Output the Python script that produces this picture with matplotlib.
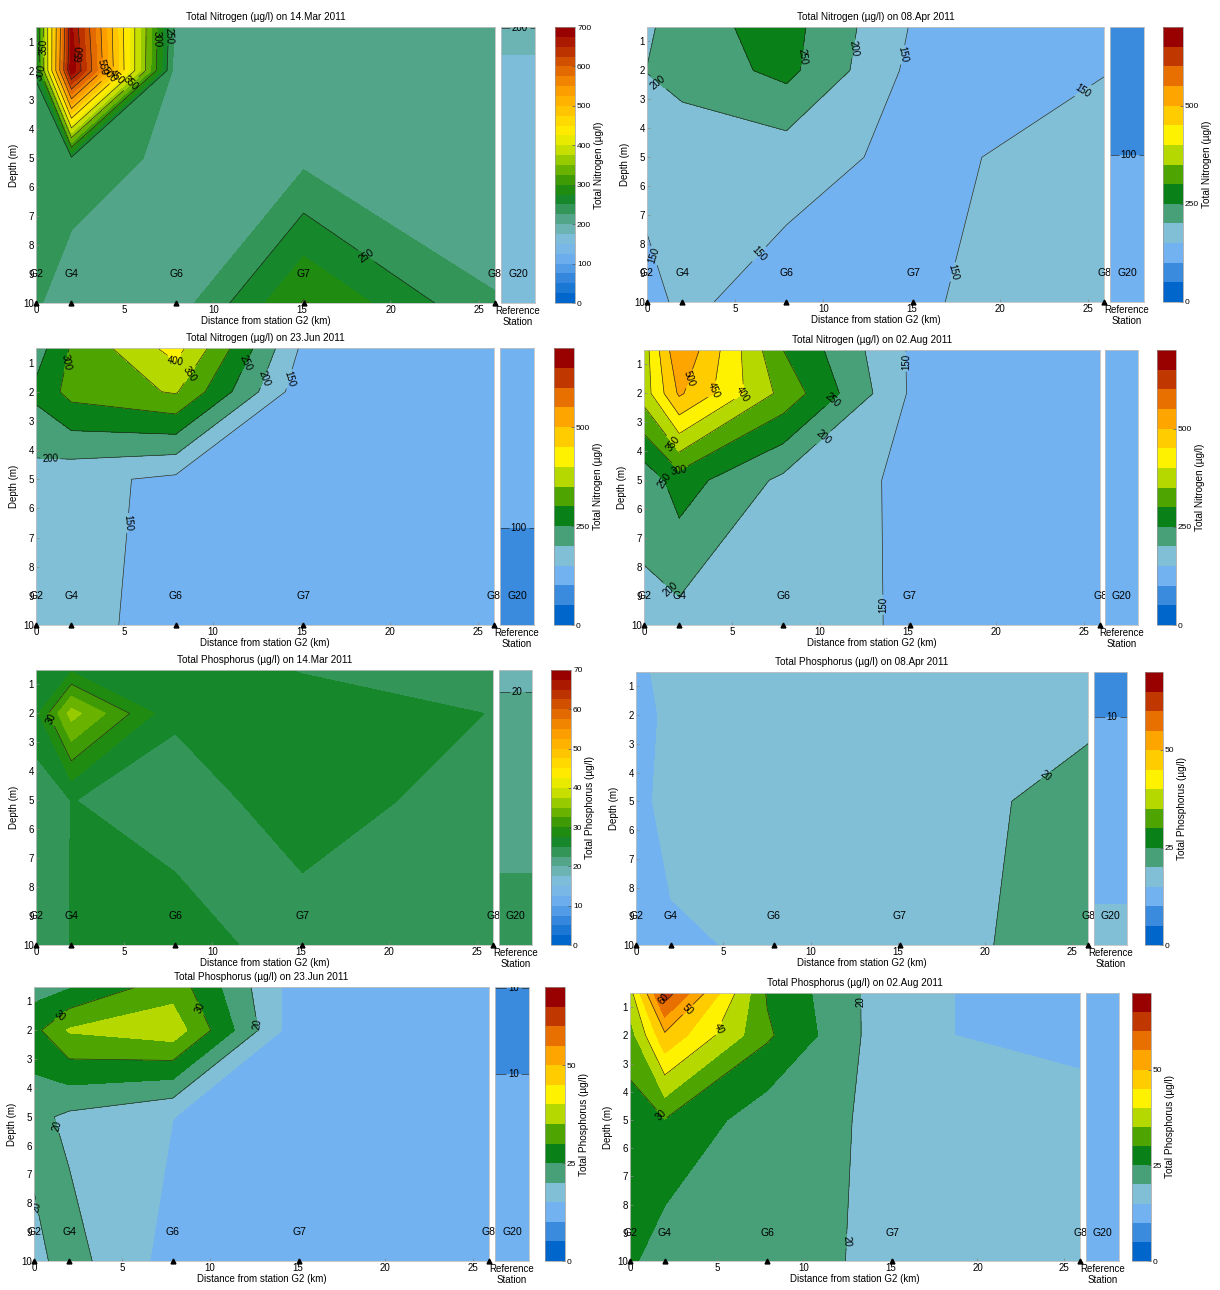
import numpy as np
import matplotlib.pyplot as plt
from matplotlib.colors import LinearSegmentedColormap

plt.rcParams['font.family'] = ['Liberation Sans', 'DejaVu Sans']

W, H = 1220, 1290
fig = plt.figure(figsize=(W / 100, H / 100), dpi=100)

# stations along the transect and sampled depths
stations = [0, 2, 7.9, 15.1, 25.9]
station_names = ['G2', 'G4', 'G6', 'G7', 'G8']
ref_name = 'G20'
depths = [0.5, 2, 5, 10]

# concentrations, one row per depth, one column per station (µg/l)
tn_mar = [[262, 680, 218, 212, 200.5],
          [252, 695, 208, 212, 214],
          [235, 247, 215, 218, 214],
          [230, 203, 212, 302, 226]]
tn_mar_ref = [201, 161, 158, 155]

tn_apr = [[190, 231, 269, 145, 140],
          [201, 220, 264, 136, 148],
          [170, 165, 172, 136, 175],
          [132, 161, 125, 144, 180]]
tn_apr_ref = [85, 92, 100.2, 112]

tn_jun = [[225, 305, 420, 140, 125],
          [262, 318, 355, 117, 125],
          [180, 165, 139, 125, 125],
          [170, 165, 132, 125, 125]]
tn_jun_ref = [120, 115, 105, 90]

tn_aug = [[375, 548, 300, 145, 125],
          [373, 508, 334, 145, 125],
          [217, 274, 188.5, 139, 125],
          [188, 182, 165, 146, 125]]
tn_aug_ref = [128, 130, 131, 132]

tp_mar = [[26, 27.1, 26, 24.9, 24],
          [26.8, 36, 25.3, 26, 24.95],
          [23.2, 25.05, 24, 26, 24],
          [23.5, 25.1, 26, 24, 24]]
tp_mar_ref = [19.5, 20.5, 21.5, 23.5]

tp_apr = [[13.5, 17.1, 17, 17, 17.5],
          [13, 16.2, 17, 17, 19.15],
          [13.5, 16.7, 17, 17.5, 21.7],
          [13, 14.2, 15.9, 18, 22]]
tp_apr_ref = [8.5, 9.95, 13, 15.8]

tp_jun = [[23, 24.5, 33, 12, 12.5],
          [28.5, 35.5, 38, 11.3, 12.5],
          [21.5, 18.9, 15.05, 12.5, 12.5],
          [18.6, 22, 13, 12.5, 12.5]]
tp_jun_ref = [10.02, 9, 11, 12]

tp_aug = [[38, 63, 29.5, 16.8, 11.4],
          [32.7, 49, 30.8, 16.4, 12.2],
          [27.5, 29.8, 21.9, 19.1, 19.2],
          [26, 21.9, 21, 19.4, 18]]
tp_aug_ref = [12.8, 13, 13.1, 13.2]

palette = ['#0066cc', '#3a8ade', '#72b2f0', '#80bfd6', '#48a078', '#0a8018',
           '#4ea400', '#b4d800', '#fff200', '#ffcc00', '#ffa500', '#e87000',
           '#c03800', '#990000']
cmap = LinearSegmentedColormap.from_list('tn', palette)
coarse = palette
fine = [cmap(t) for t in np.linspace(0, 1, 28)]

N_LABEL = 'Total Nitrogen (µg/l)'
P_LABEL = 'Total Phosphorus (µg/l)'
FS = 7
LINE = '#222222'


def px_axes(l, t, r, b):
    return fig.add_axes([l / W, 1 - b / H, (r - l) / W, (b - t) / H])


def style(ax):
    for s in ax.spines.values():
        s.set_color('#c0c0c0')
        s.set_linewidth(0.6)
    ax.tick_params(labelsize=FS, length=2, width=0.5, direction='in',
                   color='#888888', pad=1.5)


def label_lines(ax, cs, spots=None):
    kw = dict(fmt='%d', fontsize=7, inline=True, inline_spacing=2, colors='k')
    if spots:
        ax.clabel(cs, manual=spots, **kw)
    else:
        ax.clabel(cs, **kw)


def crossings(profile, lines):
    # depths where a single profile passes each line level
    out = []
    for lev in lines:
        for i in range(len(depths) - 1):
            a, b = profile[i], profile[i + 1]
            if (a - lev) * (b - lev) < 0:
                out.append(depths[i] + (lev - a) / (b - a) * (depths[i + 1] - depths[i]))
    return out


def panel(box, vals, ref, vmax, step, line_step, colors, cticks, label, title,
          spots=None):
    l, t, r, b, rl, rr, cl, cr = box
    levels = np.arange(0, vmax + step / 2, step)
    lines = np.arange(line_step, vmax, line_step)
    z = np.array(vals, dtype=float)

    ax = px_axes(l, t, r, b)
    cs = ax.contourf(stations, depths, z, levels=levels, colors=colors)
    cl_ = ax.contour(stations, depths, z, levels=lines, colors=LINE,
                     linewidths=0.45)
    label_lines(ax, cl_, spots)
    ax.plot(stations, [depths[-1]] * len(stations), '^', color='k', ms=3.5,
            clip_on=False, zorder=5)
    for x, name in zip(stations, station_names):
        ax.text(x, 9, name, ha='center', va='center', fontsize=7.5, zorder=6)
    ax.set_xlim(stations[0], stations[-1])
    ax.set_ylim(depths[-1], depths[0])
    ax.set_xticks([0, 5, 10, 15, 20, 25])
    ax.set_yticks(range(1, 11))
    ax.set_xlabel('Distance from station G2 (km)', fontsize=FS, labelpad=1)
    ax.set_ylabel('Depth (m)', fontsize=FS, labelpad=3)
    ax.set_title(title, fontsize=7.2, pad=5)
    style(ax)

    rax = px_axes(rl, t, rr, b)
    rz = np.column_stack([ref, ref]).astype(float)
    rax.contourf([0, 1], depths, rz, levels=levels, colors=colors)
    rcl = rax.contour([0, 1], depths, rz, levels=lines, colors=LINE,
                      linewidths=0.45)
    rspots = [(0.55, d) for d in crossings(ref, lines)]
    if rspots:
        label_lines(rax, rcl, rspots)
    rax.text(0.5, 9, ref_name, ha='center', va='center', fontsize=7.5)
    rax.set_xlim(0, 1)
    rax.set_ylim(depths[-1], depths[0])
    rax.set_xticks([])
    rax.set_yticks([])
    rax.set_xlabel('Reference\nStation', fontsize=FS, labelpad=2,
                   linespacing=1.1)
    style(rax)

    cax = px_axes(cl, t, cr, b)
    cb = fig.colorbar(cs, cax=cax, ticks=cticks)
    cb.outline.set_edgecolor('#999999')
    cb.outline.set_linewidth(0.5)
    cb.ax.tick_params(labelsize=6, length=2, width=0.5, direction='in',
                      color='#555555', pad=1.5)
    cb.set_label(label, fontsize=7.2, labelpad=2)


# boxes in pixels: main l, t, r, b; reference l, r; colorbar l, r
panel((36, 27, 495, 303, 501, 535, 555, 575), tn_mar, tn_mar_ref, 700, 25, 50,
      fine, range(0, 701, 100), N_LABEL, 'Total Nitrogen (µg/l) on 14.Mar 2011',
      spots=[(0.35, 1.2), (0.1, 2.1), (2.6, 1.4), (3.7, 1.9), (4.2, 2.2),
             (4.7, 2.3), (5.3, 2.4), (6.6, 0.9), (7.3, 0.8), (18.4, 8.6)])
panel((647, 27, 1104, 302, 1110, 1144, 1163, 1183), tn_apr, tn_apr_ref, 700, 50, 50,
      coarse, [0, 250, 500], N_LABEL, 'Total Nitrogen (µg/l) on 08.Apr 2011',
      spots=[(0.8, 2.3), (8.7, 1.5), (11.4, 1.2), (14.0, 1.4), (0.4, 8.4),
             (6.8, 8.6), (17.6, 9.0), (24.5, 2.5)])
panel((36, 348, 494, 625, 500, 534, 554, 574), tn_jun, tn_jun_ref, 700, 50, 50,
      coarse, [0, 250, 500], N_LABEL, 'Total Nitrogen (µg/l) on 23.Jun 2011',
      spots=[(2.6, 1.1), (7.9, 1.2), (8.7, 1.4), (11.8, 1.0), (12.7, 1.5),
             (14.0, 1.5), (0.8, 4.5), (5.1, 6.5)])
panel((644, 350, 1100, 625, 1105, 1138, 1157, 1176), tn_aug, tn_aug_ref, 700, 50, 50,
      coarse, [0, 250, 500], N_LABEL, 'Total Nitrogen (µg/l) on 02.Aug 2011',
      spots=[(2.6, 1.5), (4.0, 1.9), (5.6, 2.0), (1.5, 3.8), (2.0, 4.65),
             (1.2, 5.0), (10.8, 2.3), (10.6, 3.8), (1.6, 8.7), (14.8, 0.9),
             (13.6, 9.3)])
panel((36, 670, 493, 945, 499, 532, 551, 571), tp_mar, tp_mar_ref, 70, 2.5, 10,
      fine, range(0, 71, 10), P_LABEL, 'Total Phosphorus (µg/l) on 14.Mar 2011',
      spots=[(1.2, 2.1)])
panel((636, 672, 1088, 945, 1094, 1127, 1145, 1163), tp_apr, tp_apr_ref, 70, 5, 10,
      coarse, [0, 25, 50], P_LABEL, 'Total Phosphorus (µg/l) on 08.Apr 2011',
      spots=[(23.5, 4.1)])
panel((34, 987, 489, 1261, 495, 529, 545, 565), tp_jun, tp_jun_ref, 70, 5, 10,
      coarse, [0, 25, 50], P_LABEL, 'Total Phosphorus (µg/l) on 23.Jun 2011',
      spots=[(1.5, 1.5), (9.6, 1.2), (12.6, 1.8), (1.4, 5.3), (0.3, 8.1)])
panel((630, 993, 1080, 1261, 1086, 1119, 1132, 1151), tp_aug, tp_aug_ref, 70, 5, 10,
      coarse, [0, 25, 50], P_LABEL, 'Total Phosphorus (µg/l) on 02.Aug 2011',
      spots=[(2.0, 0.7), (3.2, 1.0), (4.6, 1.6), (1.7, 4.9), (13.2, 0.8),
             (12.4, 9.3)])

fig.savefig('out.png', dpi=100)
